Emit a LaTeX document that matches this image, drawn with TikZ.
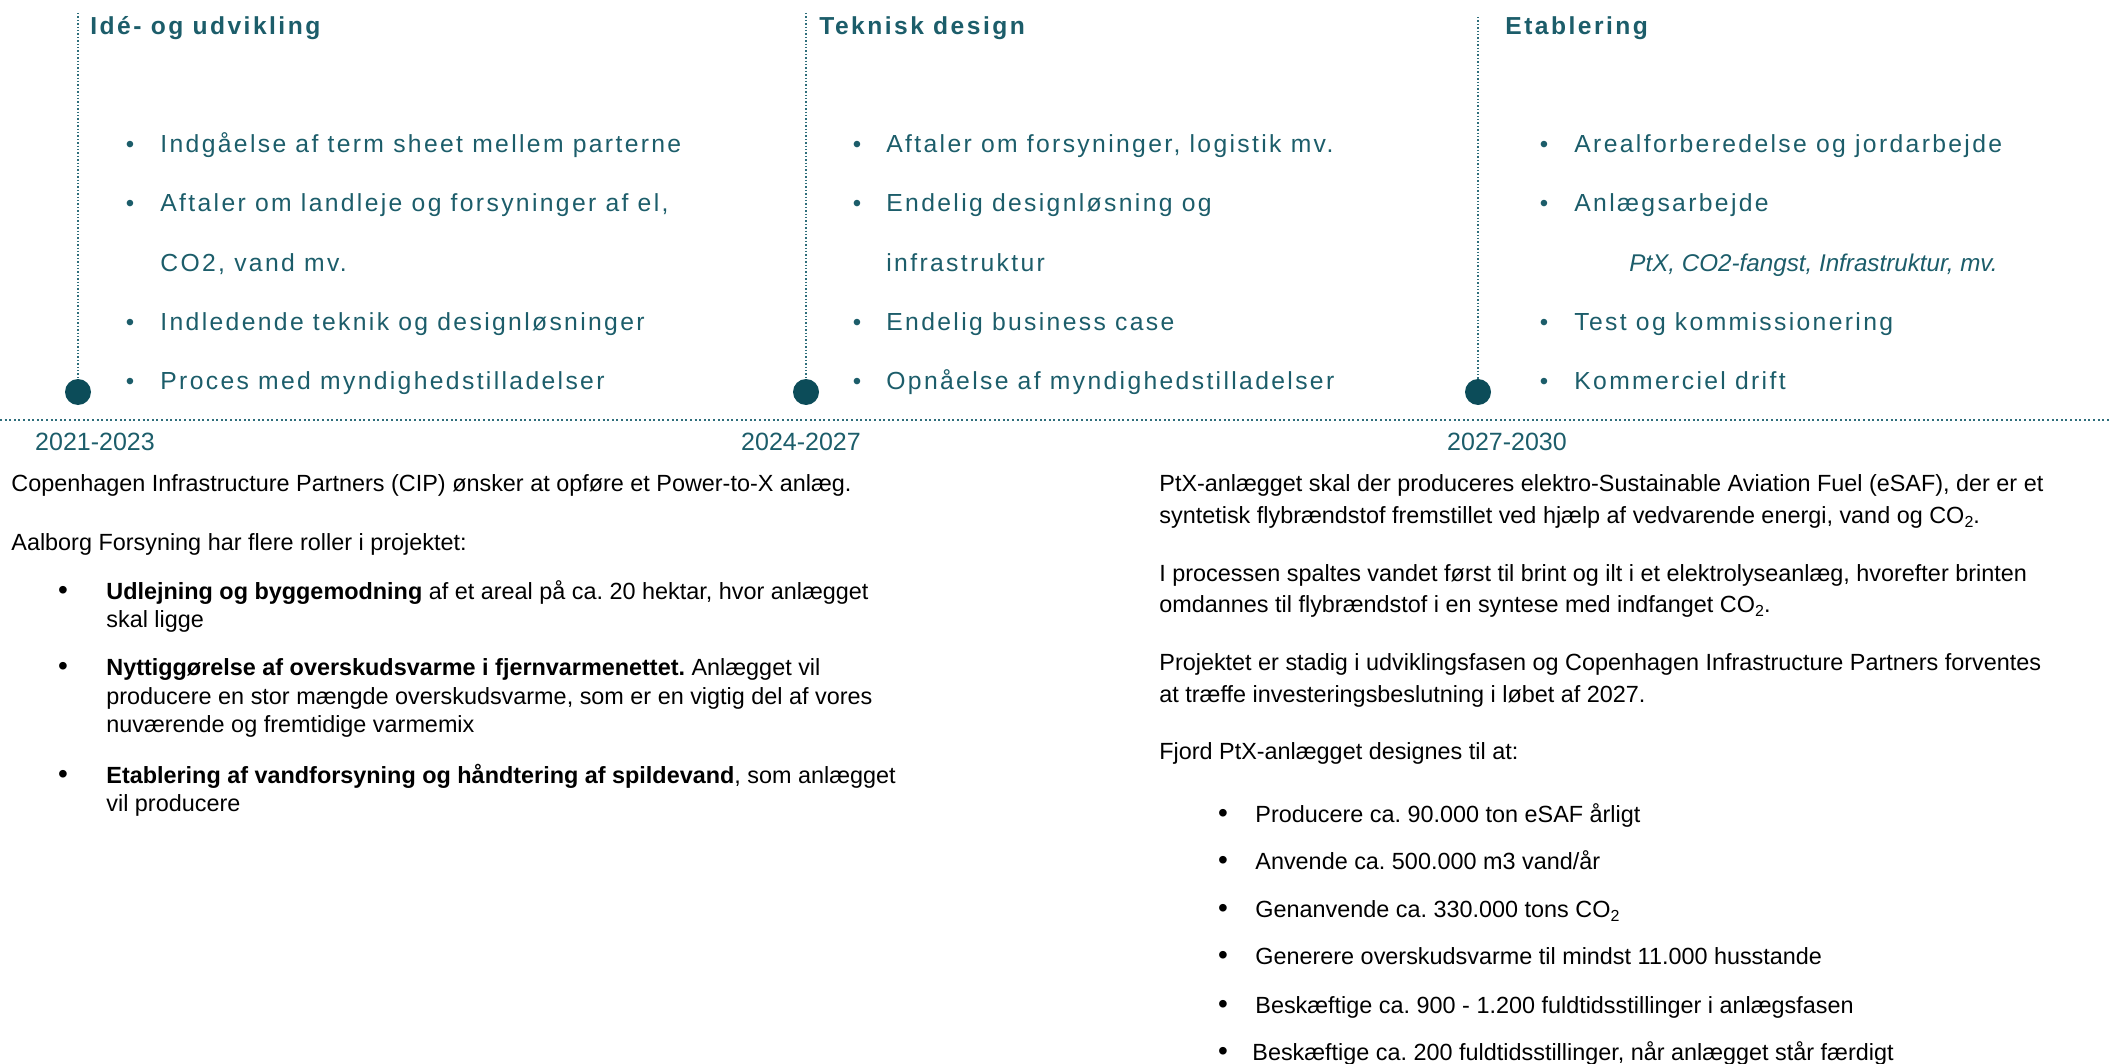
\documentclass[tikz,border=0pt]{standalone}
\usepackage{fontspec}
\setmainfont{Liberation Sans}
\newfontfamily\spaced[LetterSpace=9.5]{Liberation Sans}
\newfontfamily\spacedttl[LetterSpace=10]{Liberation Sans}
\definecolor{tealtxt}{HTML}{1C5D6A}
\definecolor{tealdot}{HTML}{0C4C59}
\definecolor{tealline}{HTML}{2E6E7B}
\newcommand{\cosub}{\raisebox{-0.35ex}{\fontsize{8}{8}\selectfont 2}}
\frenchspacing
\begin{document}
\frenchspacing
\begin{tikzpicture}[x=0.5pt,y=-0.5pt,
  toptxt/.style={anchor=base west, inner sep=0pt, text=tealtxt, font=\spaced\fontsize{12.35}{14}\selectfont},
  ttl/.style={anchor=base west, inner sep=0pt, text=tealtxt, font=\spacedttl\bfseries\fontsize{12.3}{14}\selectfont},
  topbul/.style={anchor=base, inner sep=0pt, text=tealtxt, font=\fontsize{12}{14}\selectfont},
  itl/.style={anchor=base west, inner sep=0pt, text=tealtxt, font=\itshape\fontsize{12.1}{14}\selectfont},
  yr/.style={anchor=base, inner sep=0pt, text=tealtxt, font=\fontsize{12.5}{14}\selectfont},
  body/.style={anchor=base west, inner sep=0pt, text=black, font=\fontsize{11.7}{14}\selectfont},
  bodybul/.style={anchor=base, inner sep=0pt, text=black, font=\fontsize{14}{14}\selectfont},
  milestone/.style={circle, fill=tealdot, minimum size=13pt, inner sep=0pt},
  vdot/.style={draw=tealline, line width=0.7pt, dash pattern=on 0.7pt off 1pt},
  hdot/.style={draw=tealline, line width=1pt, dash pattern=on 1pt off 1.3pt}]
\useasboundingbox (0,0) rectangle (2109,1064);

% timeline
\coordinate (h0) at (0,420);
\coordinate (h1) at (2109,420);
\draw[hdot] (h0) -- (h1);

\node[milestone] (m1) at (78,392) {};
\node[milestone] (m2) at (806,392) {};
\node[milestone] (m3) at (1478,392) {};
\coordinate (v1) at (78,13);
\coordinate (v2) at (806,13);
\coordinate (v3) at (1478,17);
\draw[vdot] (v1) -- (m1.north);
\draw[vdot] (v2) -- (m2.north);
\draw[vdot] (v3) -- (m3.north);

% titles
\node[ttl] (t1) at (90,35) {Idé- og udvikling};
\node[ttl] (t2) at (819,35) {Teknisk design};
\node[ttl] (t3) at (1505,35) {Etablering};

% column 1
\node[topbul] (a1b) at (130,153) {•};
\node[toptxt] (a1) at (160,153) {Indgåelse af term sheet mellem parterne};
\node[topbul] (a2b) at (130,212) {•};
\node[toptxt] (a2) at (160,212) {Aftaler om landleje og forsyninger af el,};
\node[toptxt] (a3) at (160,271) {CO2, vand mv.};
\node[topbul] (a4b) at (130,330) {•};
\node[toptxt] (a4) at (160,330) {Indledende teknik og designløsninger};
\node[topbul] (a5b) at (130,389) {•};
\node[toptxt] (a5) at (160,389) {Proces med myndighedstilladelser};

% column 2
\node[topbul] (b1b) at (857,153) {•};
\node[toptxt] (b1) at (886,153) {Aftaler om forsyninger, logistik mv.};
\node[topbul] (b2b) at (857,212) {•};
\node[toptxt] (b2) at (886,212) {Endelig designløsning og};
\node[toptxt] (b3) at (886,271) {infrastruktur};
\node[topbul] (b4b) at (857,330) {•};
\node[toptxt] (b4) at (886,330) {Endelig business case};
\node[topbul] (b5b) at (857,389) {•};
\node[toptxt] (b5) at (886,389) {Opnåelse af myndighedstilladelser};

% column 3
\node[topbul] (c1b) at (1544,153) {•};
\node[toptxt] (c1) at (1574,153) {Arealforberedelse og jordarbejde};
\node[topbul] (c2b) at (1544,212) {•};
\node[toptxt] (c2) at (1574,212) {Anlægsarbejde};
\node[itl] (c3) at (1629,271) {PtX, CO2-fangst, Infrastruktur, mv.};
\node[topbul] (c4b) at (1544,330) {•};
\node[toptxt] (c4) at (1574,330) {Test og kommissionering};
\node[topbul] (c5b) at (1544,389) {•};
\node[toptxt] (c5) at (1574,389) {Kommerciel drift};

% years
\node[yr] (y1) at (95,450) {2021-2023};
\node[yr] (y2) at (801,450) {2024-2027};
\node[yr] (y3) at (1507,450) {2027-2030};

% left body
\node[body] (l1) at (11,491) {Copenhagen Infrastructure Partners (CIP) ønsker at opføre et Power-to-X anlæg.};
\node[body] (l2) at (11,550) {Aalborg Forsyning har flere roller i projektet:};
\node[bodybul] (l3b) at (63,599) {•};
\node[body] (l3) at (106,599) {\textbf{Udlejning og byggemodning} af et areal på ca. 20 hektar, hvor anlægget};
\node[body] (l3x) at (106,627) {skal ligge};
\node[bodybul] (l4b) at (63,675) {•};
\node[body] (l4) at (106,675) {\textbf{Nyttiggørelse af overskudsvarme i fjernvarmenettet.} Anlægget vil};
\node[body] (l4x) at (106,704) {producere en stor mængde overskudsvarme, som er en vigtig del af vores};
\node[body] (l4y) at (106,732) {nuværende og fremtidige varmemix};
\node[bodybul] (l5b) at (63,783) {•};
\node[body] (l5) at (106,783) {\textbf{Etablering af vandforsyning og håndtering af spildevand}, som anlægget};
\node[body] (l5x) at (106,811) {vil producere};

% right body
\node[body] (r1) at (1159,491) {PtX-anlægget skal der produceres elektro-Sustainable Aviation Fuel (eSAF), der er et};
\node[body] (r1x) at (1159,523) {syntetisk flybrændstof fremstillet ved hjælp af vedvarende energi, vand og CO\cosub.};
\node[body] (r2) at (1159,581) {I processen spaltes vandet først til brint og ilt i et elektrolyseanlæg, hvorefter brinten};
\node[body] (r2x) at (1159,612) {omdannes til flybrændstof i en syntese med indfanget CO\cosub.};
\node[body] (r3) at (1159,670) {Projektet er stadig i udviklingsfasen og Copenhagen Infrastructure Partners forventes};
\node[body] (r3x) at (1159,702) {at træffe investeringsbeslutning i løbet af 2027.};
\node[body] (r4) at (1159,759) {Fjord PtX-anlægget designes til at:};

\node[bodybul] (s1b) at (1223,822) {•};
\node[body] (s1) at (1255,822) {Producere ca. 90.000 ton eSAF årligt};
\node[bodybul] (s2b) at (1223,869) {•};
\node[body] (s2) at (1255,869) {Anvende ca. 500.000 m3 vand/år};
\node[bodybul] (s3b) at (1223,917) {•};
\node[body] (s3) at (1255,917) {Genanvende ca. 330.000 tons CO\cosub};
\node[bodybul] (s4b) at (1223,964) {•};
\node[body] (s4) at (1255,964) {Generere overskudsvarme til mindst 11.000 husstande};
\node[bodybul] (s5b) at (1223,1013) {•};
\node[body] (s5) at (1255,1013) {Beskæftige ca. 900 - 1.200 fuldtidsstillinger i anlægsfasen};
\node[bodybul] (s6b) at (1223,1060) {•};
\node[body] (s6) at (1252,1060) {Beskæftige ca. 200 fuldtidsstillinger, når anlægget står færdigt};
\end{tikzpicture}
\end{document}
